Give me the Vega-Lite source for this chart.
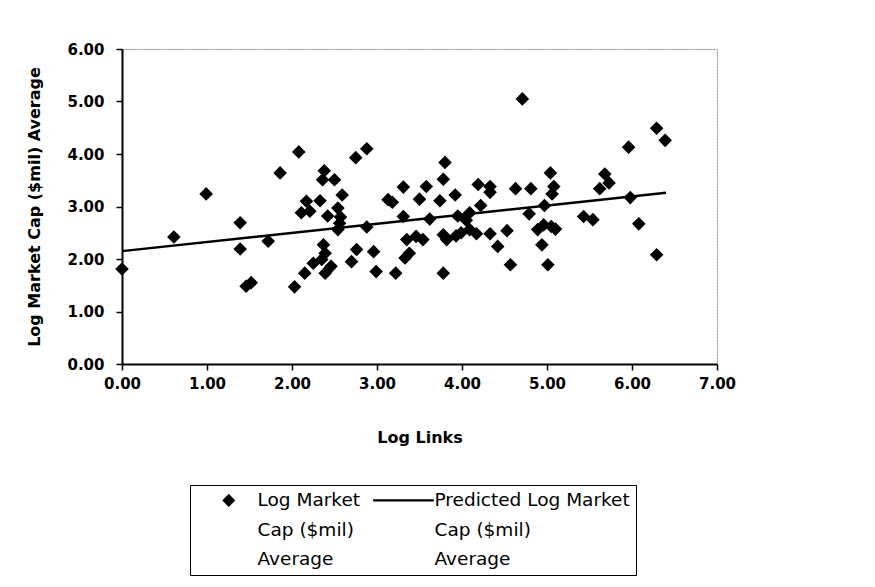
{
  "$schema": "https://vega.github.io/schema/vega-lite/v6.json",
  "width": 595,
  "height": 315,
  "autosize": {"type": "none"},
  "padding": {"left": 122, "top": 49, "right": 158, "bottom": 223},
  "background": "white",
  "config": {
    "font": "DejaVu Sans",
    "view": {"stroke": "#8a8a8a", "strokeWidth": 1, "strokeDash": [2, 1]},
    "style": {"guide-label": {"lineHeight": 29.5}},
    "axis": {
      "grid": false,
      "labelFlush": false,
      "domainColor": "black",
      "domainWidth": 2,
      "tickColor": "black",
      "tickWidth": 1.5,
      "tickSize": 6,
      "labelFont": "DejaVu Sans",
      "labelFontSize": 15,
      "labelFontWeight": "bold",
      "labelColor": "black",
      "titleFont": "DejaVu Sans",
      "titleFontSize": 16,
      "titleFontWeight": "bold",
      "titleColor": "black"
    }
  },
  "datasets": {
    "companies": [
      {"links": 0.00, "cap": 1.81}, {"links": 0.61, "cap": 2.42}, {"links": 0.99, "cap": 3.24},
      {"links": 1.39, "cap": 2.69}, {"links": 1.39, "cap": 2.19}, {"links": 1.46, "cap": 1.48},
      {"links": 1.52, "cap": 1.55}, {"links": 1.72, "cap": 2.34}, {"links": 1.86, "cap": 3.64},
      {"links": 2.08, "cap": 4.04}, {"links": 2.03, "cap": 1.47}, {"links": 2.11, "cap": 2.88},
      {"links": 2.17, "cap": 3.10}, {"links": 2.21, "cap": 2.91}, {"links": 2.15, "cap": 1.73},
      {"links": 2.25, "cap": 1.92}, {"links": 2.33, "cap": 3.11}, {"links": 2.36, "cap": 3.51},
      {"links": 2.38, "cap": 3.68}, {"links": 2.37, "cap": 2.27}, {"links": 2.39, "cap": 2.11},
      {"links": 2.35, "cap": 1.99}, {"links": 2.39, "cap": 1.73}, {"links": 2.46, "cap": 1.86},
      {"links": 2.42, "cap": 2.82}, {"links": 2.50, "cap": 3.51}, {"links": 2.54, "cap": 2.97},
      {"links": 2.57, "cap": 2.80}, {"links": 2.59, "cap": 3.22}, {"links": 2.54, "cap": 2.56},
      {"links": 2.56, "cap": 2.68}, {"links": 2.75, "cap": 3.93}, {"links": 2.88, "cap": 4.10},
      {"links": 2.76, "cap": 2.18}, {"links": 2.70, "cap": 1.95}, {"links": 2.88, "cap": 2.61},
      {"links": 2.96, "cap": 2.14}, {"links": 2.99, "cap": 1.76}, {"links": 3.13, "cap": 3.13},
      {"links": 3.18, "cap": 3.08}, {"links": 3.22, "cap": 1.73}, {"links": 3.31, "cap": 3.37},
      {"links": 3.31, "cap": 2.81}, {"links": 3.35, "cap": 2.37}, {"links": 3.38, "cap": 2.11},
      {"links": 3.33, "cap": 2.02}, {"links": 3.46, "cap": 2.43}, {"links": 3.54, "cap": 2.37},
      {"links": 3.50, "cap": 3.14}, {"links": 3.58, "cap": 3.38}, {"links": 3.62, "cap": 2.76},
      {"links": 3.74, "cap": 3.11}, {"links": 3.78, "cap": 3.52}, {"links": 3.80, "cap": 3.84},
      {"links": 3.78, "cap": 2.46}, {"links": 3.82, "cap": 2.37}, {"links": 3.78, "cap": 1.73},
      {"links": 3.92, "cap": 3.22}, {"links": 3.95, "cap": 2.82}, {"links": 3.93, "cap": 2.44},
      {"links": 3.99, "cap": 2.50}, {"links": 4.09, "cap": 2.88}, {"links": 4.05, "cap": 2.74},
      {"links": 4.09, "cap": 2.56}, {"links": 4.17, "cap": 2.48}, {"links": 4.19, "cap": 3.42},
      {"links": 4.22, "cap": 3.02}, {"links": 4.33, "cap": 3.38}, {"links": 4.33, "cap": 3.27},
      {"links": 4.33, "cap": 2.48}, {"links": 4.42, "cap": 2.24}, {"links": 4.53, "cap": 2.54},
      {"links": 4.57, "cap": 1.89}, {"links": 4.63, "cap": 3.34}, {"links": 4.71, "cap": 5.05},
      {"links": 4.81, "cap": 3.34}, {"links": 4.79, "cap": 2.86}, {"links": 4.89, "cap": 2.56},
      {"links": 4.96, "cap": 2.65}, {"links": 4.97, "cap": 3.02}, {"links": 4.94, "cap": 2.27},
      {"links": 5.01, "cap": 1.89}, {"links": 5.04, "cap": 3.64}, {"links": 5.08, "cap": 3.38},
      {"links": 5.06, "cap": 3.24}, {"links": 5.05, "cap": 2.62}, {"links": 5.10, "cap": 2.57},
      {"links": 5.43, "cap": 2.81}, {"links": 5.54, "cap": 2.75}, {"links": 5.62, "cap": 3.34},
      {"links": 5.68, "cap": 3.62}, {"links": 5.73, "cap": 3.45}, {"links": 5.96, "cap": 4.13},
      {"links": 5.98, "cap": 3.17}, {"links": 6.08, "cap": 2.67}, {"links": 6.29, "cap": 4.49},
      {"links": 6.39, "cap": 4.26}, {"links": 6.29, "cap": 2.08}
    ],
    "fit": [
      {"links": 0.0, "cap": 2.15},
      {"links": 6.4, "cap": 3.26}
    ]
  },
  "layer": [
    {
      "data": {"name": "fit"},
      "mark": {"type": "line", "color": "black", "strokeWidth": 2.5},
      "encoding": {
        "x": {
          "field": "links", "type": "quantitative",
          "scale": {"domain": [0, 7], "nice": false},
          "axis": {"values": [0, 1, 2, 3, 4, 5, 6, 7], "format": ".2f", "title": "Log Links", "labelPadding": 6, "titlePadding": 38}
        },
        "y": {
          "field": "cap", "type": "quantitative",
          "scale": {"domain": [0, 6], "nice": false},
          "axis": {"values": [0, 1, 2, 3, 4, 5, 6], "format": ".2f", "title": "Log Market Cap ($mil) Average", "labelPadding": 12, "titlePadding": 24}
        }
      }
    },
    {
      "data": {"name": "companies"},
      "transform": [{"calculate": "'Log Market Cap ($mil) Average'", "as": "series"}],
      "mark": {"type": "point", "filled": true, "color": "black", "opacity": 1, "size": 185},
      "encoding": {
        "x": {"field": "links", "type": "quantitative"},
        "y": {"field": "cap", "type": "quantitative"},
        "shape": {
          "field": "series", "type": "nominal",
          "scale": {
            "domain": ["Log Market Cap ($mil) Average", "Predicted Log Market Cap ($mil) Average"],
            "range": ["diamond", "M-5.0,-0.19L4.31,-0.19L4.31,0.19L-5.0,0.19Z"]
          },
          "legend": {
            "title": null,
            "orient": "none",
            "legendX": 68,
            "legendY": 436,
            "direction": "horizontal",
            "columns": 2,
            "strokeColor": "black",
            "fillColor": "white",
            "padding": 6,
            "symbolOffset": 23.5,
            "columnPadding": 9,
            "symbolSize": 170,
            "symbolFillColor": "black",
            "labelFont": "DejaVu Sans",
            "labelFontSize": 18.5,
            "labelColor": "black",
            "labelLimit": 400,
            "labelOffset": 19.5,
            "labelExpr": "datum.label == 'Log Market Cap ($mil) Average' ? ['Log Market', 'Cap ($mil)', 'Average'] : ['Predicted Log Market', 'Cap ($mil)', 'Average']"
          }
        }
      }
    }
  ]
}
